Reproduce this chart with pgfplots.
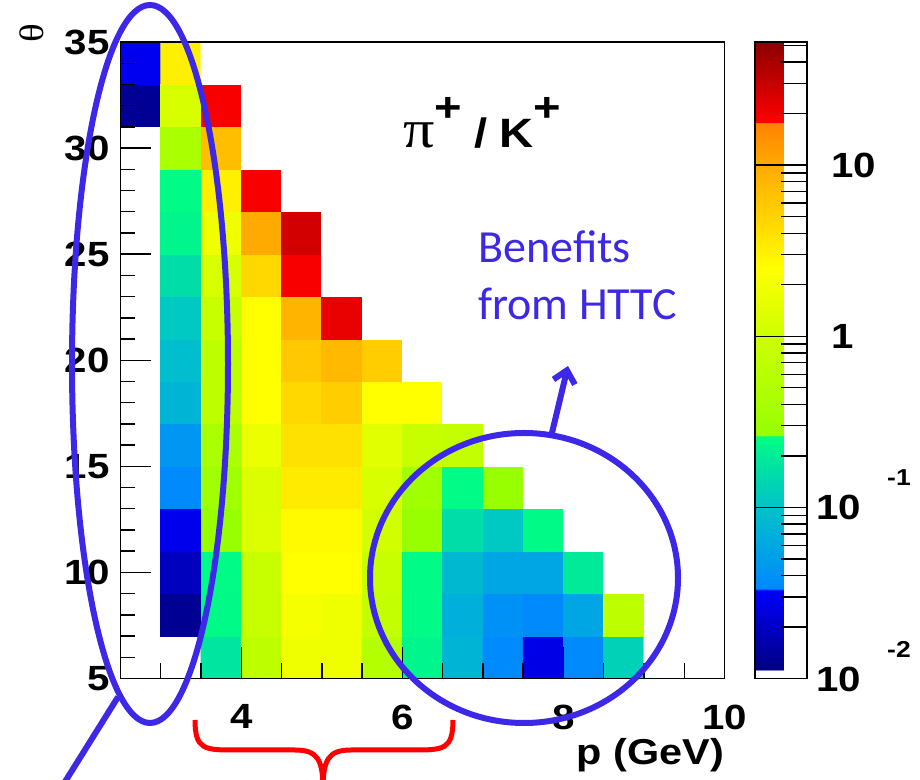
\documentclass[border=0pt]{standalone}
\usepackage{fontspec}
\setmainfont{Liberation Sans}[FakeStretch=1.15]
\newfontfamily\carlito{Carlito}
\newfontfamily\serifgk{Liberation Serif}[FakeStretch=1.15]
\usepackage{pgfplots}
\pgfplotsset{compat=1.18}
\usetikzlibrary{arrows.meta}
\definecolor{annblue}{RGB}{60,40,230}
\pgfplotsset{colormap={rootpal}{
 rgb255(0pt)=(255,255,255); rgb255(5pt)=(255,255,255);
 rgb255(5.1pt)=(0,0,130); rgb255(52pt)=(0,0,255);
 rgb255(52.1pt)=(0,135,255); rgb255(100pt)=(0,195,200);
 rgb255(120pt)=(0,220,170); rgb255(142pt)=(0,255,130);
 rgb255(142.1pt)=(150,255,0); rgb255(200pt)=(205,255,0);
 rgb255(240pt)=(255,255,0); rgb255(270pt)=(255,210,0);
 rgb255(300pt)=(255,170,0); rgb255(325pt)=(255,130,0);
 rgb255(325.1pt)=(255,0,0); rgb255(372pt)=(140,0,0)}}
\begin{document}
\begin{tikzpicture}
\begin{axis}[
 at={(0,0)}, anchor=south west,
 scale only axis, width=302pt, height=318.25pt,
 xmin=2.5, xmax=10, ymin=5, ymax=35,
 axis on top,
 xtick={4,6,8,10}, xticklabels={4,6,8,10},
 minor xtick={2.5,3,3.5,4.5,5,5.5,6.5,7,7.5,8.5,9,9.5},
 ytick={5,10,15,20,25,30,35}, yticklabels={5,10,15,20,25,30,35},
 minor ytick={6,7,8,9,11,12,13,14,16,17,18,19,21,22,23,24,26,27,28,29,31,32,33,34},
 tick pos=left, tick align=inside,
 major tick length=15.5pt, minor tick length=7.5pt,
 tick style={black, line width=0.7pt},
 axis line style={black, line width=0.8pt},
 ticklabel style={font=\fontsize{17.5}{17.5}\selectfont\bfseries, inner sep=0pt},
 xticklabel style={yshift=-13pt},
 yticklabel style={xshift=-5.25pt},
 xlabel={p (GeV)},
 x label style={at={(rel axis cs:1,0)}, anchor=base east, yshift=-43pt, inner sep=0pt, font=\fontsize{18}{18}\selectfont\bfseries},
 ylabel={\serifgk θ},
 y label style={at={(rel axis cs:-0.1465,1.0141)}, anchor=center, inner sep=0pt, font=\fontsize{17}{17}\selectfont},
 colormap name=rootpal, point meta min=-2, point meta max=1.72,
 colorbar,
 colorbar style={
  at={(parent axis.north east)}, anchor=north west, xshift=6.75pt,
  width=26pt,
  ytick={-2,-1,0,1},
  yticklabels={{\hspace*{-7.5pt}10\hspace{13pt}\raisebox{17pt}{\fontsize{11.5}{11.5}\selectfont -2}},{\hspace*{-7.5pt}10\hspace{13pt}\raisebox{17pt}{\fontsize{11.5}{11.5}\selectfont -1}},1,10},
  minor ytick={-1.69897,-1.52288,-1.39794,-1.30103,-1.22185,-1.15490,-1.09691,-1.04576,
   -0.69897,-0.52288,-0.39794,-0.30103,-0.22185,-0.15490,-0.09691,-0.04576,
   0.30103,0.47712,0.60206,0.69897,0.77815,0.84510,0.90309,0.95424,
   1.30103,1.47712,1.60206,1.69897},
  ytick pos=right, yticklabel pos=right,
  tick align=inside,
  major tick length=26pt, minor tick length=13pt,
  tick style={black, line width=0.7pt},
  axis line style={black, line width=0.8pt},
  yticklabel style={anchor=base west, inner sep=0pt, xshift=12pt, yshift=-6.3pt, font=\fontsize{17.5}{17.5}\selectfont\bfseries},
 },
]
\addplot[matrix plot*, mesh/cols=15, point meta=explicit] table[x=x, y=y, meta expr={log10(\thisrow{v})}] {
x y v
2.75 6 0.01
3.25 6 0.01
3.75 6 0.18
4.25 6 0.69
4.75 6 1.9
5.25 6 1.9
5.75 6 0.55
6.25 6 0.23
6.75 6 0.076
7.25 6 0.035
7.75 6 0.027
8.25 6 0.035
8.75 6 0.13
9.25 6 0.01
9.75 6 0.01
2.75 8 0.01
3.25 8 0.0129
3.75 8 0.245
4.25 8 0.89
4.75 8 2.1
5.25 8 1.9
5.75 8 0.79
6.25 8 0.25
6.75 8 0.069
7.25 8 0.040
7.75 8 0.035
8.25 8 0.058
8.75 8 0.69
9.25 8 0.01
9.75 8 0.01
2.75 10 0.01
3.25 10 0.019
3.75 10 0.25
4.25 10 0.89
4.75 10 2.5
5.25 10 2.5
5.75 10 0.89
6.25 10 0.25
6.75 10 0.083
7.25 10 0.058
7.75 10 0.058
8.25 10 0.195
8.75 10 0.01
9.25 10 0.01
9.75 10 0.01
2.75 12 0.01
3.25 12 0.028
3.75 12 0.27
4.25 12 1.32
4.75 12 2.7
5.25 12 2.7
5.75 12 1.1
6.25 12 0.27
6.75 12 0.16
7.25 12 0.11
7.75 12 0.245
8.25 12 0.01
8.75 12 0.01
9.25 12 0.01
9.75 12 0.01
2.75 14 0.01
3.25 14 0.035
3.75 14 0.34
4.25 14 1.32
4.75 14 3.4
5.25 14 3.4
5.75 14 1.2
6.25 14 0.34
6.75 14 0.25
7.25 14 0.28
7.75 14 0.01
8.25 14 0.01
8.75 14 0.01
9.25 14 0.01
9.75 14 0.01
2.75 16 0.01
3.25 16 0.044
3.75 16 0.43
4.25 16 1.74
4.75 16 4.0
5.25 16 4.0
5.75 16 1.45
6.25 16 0.89
6.75 16 0.79
7.25 16 0.01
7.75 16 0.01
8.25 16 0.01
8.75 16 0.01
9.25 16 0.01
9.75 16 0.01
2.75 18 0.01
3.25 18 0.076
3.75 18 0.69
4.25 18 2.5
4.75 18 4.6
5.25 18 5.5
5.75 18 2.5
6.25 18 2.5
6.75 18 0.01
7.25 18 0.01
7.75 18 0.01
8.25 18 0.01
8.75 18 0.01
9.25 18 0.01
9.75 18 0.01
2.75 20 0.01
3.25 20 0.091
3.75 20 0.69
4.25 20 2.5
4.75 20 6.0
5.25 20 7.7
5.75 20 5.5
6.25 20 0.01
6.75 20 0.01
7.25 20 0.01
7.75 20 0.01
8.25 20 0.01
8.75 20 0.01
9.25 20 0.01
9.75 20 0.01
2.75 22 0.01
3.25 22 0.11
3.75 22 0.89
4.25 22 2.5
4.75 22 8.4
5.25 22 22
5.75 22 0.01
6.25 22 0.01
6.75 22 0.01
7.25 22 0.01
7.75 22 0.01
8.25 22 0.01
8.75 22 0.01
9.25 22 0.01
9.75 22 0.01
2.75 24 0.01
3.25 24 0.16
3.75 24 1.2
4.25 24 4.6
4.75 24 19
5.25 24 0.01
5.75 24 0.01
6.25 24 0.01
6.75 24 0.01
7.25 24 0.01
7.75 24 0.01
8.25 24 0.01
8.75 24 0.01
9.25 24 0.01
9.75 24 0.01
2.75 26 0.01
3.25 26 0.23
3.75 26 1.9
4.25 26 10
4.75 26 27
5.25 26 0.01
5.75 26 0.01
6.25 26 0.01
6.75 26 0.01
7.25 26 0.01
7.75 26 0.01
8.25 26 0.01
8.75 26 0.01
9.25 26 0.01
9.75 26 0.01
2.75 28 0.01
3.25 28 0.25
3.75 28 3.2
4.25 28 19
4.75 28 0.01
5.25 28 0.01
5.75 28 0.01
6.25 28 0.01
6.75 28 0.01
7.25 28 0.01
7.75 28 0.01
8.25 28 0.01
8.75 28 0.01
9.25 28 0.01
9.75 28 0.01
2.75 30 0.01
3.25 30 0.43
3.75 30 7.1
4.25 30 0.01
4.75 30 0.01
5.25 30 0.01
5.75 30 0.01
6.25 30 0.01
6.75 30 0.01
7.25 30 0.01
7.75 30 0.01
8.25 30 0.01
8.75 30 0.01
9.25 30 0.01
9.75 30 0.01
2.75 32 0.0133
3.25 32 1.2
3.75 32 19
4.25 32 0.01
4.75 32 0.01
5.25 32 0.01
5.75 32 0.01
6.25 32 0.01
6.75 32 0.01
7.25 32 0.01
7.75 32 0.01
8.25 32 0.01
8.75 32 0.01
9.25 32 0.01
9.75 32 0.01
2.75 34 0.029
3.25 34 3.2
3.75 34 0.01
4.25 34 0.01
4.75 34 0.01
5.25 34 0.01
5.75 34 0.01
6.25 34 0.01
6.75 34 0.01
7.25 34 0.01
7.75 34 0.01
8.25 34 0.01
8.75 34 0.01
9.25 34 0.01
9.75 34 0.01
};
\end{axis}
\begin{scope}[shift={(-60.25pt,339.25pt)}, x=0.5pt, y=-0.5pt]
 \node[anchor=base west, inner sep=0pt, font=\fontsize{20.5}{20.5}\selectfont\bfseries] at (403,148)
  {{\serifgk\mdseries\fontsize{27}{27}\selectfont π}\raisebox{13pt}{+}\hspace{6pt}/\hspace{6pt}K\raisebox{13pt}{+}};
 \node[anchor=base west, inner sep=0pt, text=annblue, align=left, font=\carlito\fontsize{23}{28.5}\selectfont] at (478,320) {Benefits\\from HTTC};
 \draw[annblue, line width=3pt] (150,364) ellipse [x radius=78, y radius=359];
 \draw[annblue, line width=3pt] (118,697) -- (58,793);
 \draw[annblue, line width=3pt] (524,578) ellipse [x radius=154, y radius=145];
 \draw[annblue, line width=3pt, -{Straight Barb[length=6pt,width=11pt]}] (551,437) -- (568,366);
 \draw[red, line width=2.5pt] (195,720) .. controls (195,750) and (205,750) .. (235,750) -- (295,750) .. controls (318,750) and (323,760) .. (323,790);
 \draw[red, line width=2.5pt] (453,720) .. controls (453,750) and (443,750) .. (413,750) -- (351,750) .. controls (328,750) and (323,760) .. (323,790);
\end{scope}
\pgfresetboundingbox
\path (-60.25pt,-50.75pt) rectangle (399.75pt,339.25pt);
\end{tikzpicture}
\end{document}
